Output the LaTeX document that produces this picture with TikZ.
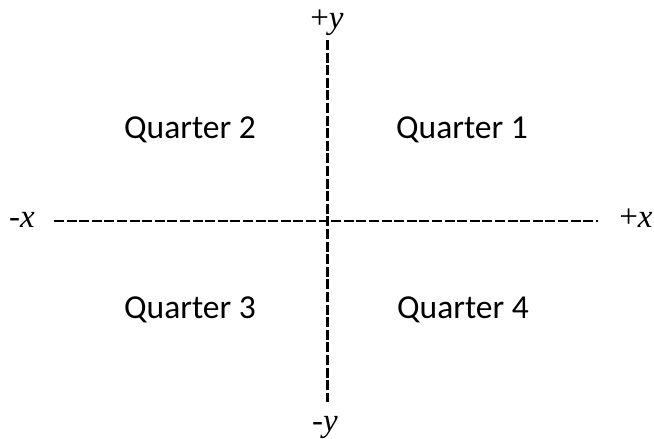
\documentclass[tikz,border=0pt]{standalone}
\usepackage{fontspec}
\setmainfont{Liberation Serif}
\newfontfamily\quarterfont{Carlito}

\begin{document}
\begin{tikzpicture}[x=1pt, y=-1pt,
    axis/.style={line width=2.5pt, dash pattern=on 10pt off 2.6pt},
    axlabel/.style={anchor=base, inner sep=0pt, font=\fontsize{33}{40}\selectfont},
    quarter/.style={anchor=base, inner sep=0pt, font=\quarterfont\fontsize{33.5}{40}\selectfont}
]
    \useasboundingbox (0,0) rectangle (654,439);

    % 1. Ends of the two dashed axes
    \coordinate (xneg) at (54,221);
    \coordinate (xpos) at (598,221);
    \coordinate (ypos) at (327.5,40);
    \coordinate (yneg) at (327.5,402);

    \draw[axis] (xneg) -- (xpos);
    \draw[axis] (ypos) -- (yneg);

    % 2. Axis labels
    \node[axlabel] (lxneg) at (22,227) {-\textit{x}};
    \node[axlabel] (lxpos) at (636,227) {+\textit{x}};
    \node[axlabel] (lypos) at (327,28) {+\textit{y}};
    \node[axlabel] (lyneg) at (325,431) {-\textit{y}};

    % 3. The four quarters
    \node[quarter] (q1) at (462,138) {Quarter 1};
    \node[quarter] (q2) at (190,138) {Quarter 2};
    \node[quarter] (q3) at (190,318) {Quarter 3};
    \node[quarter] (q4) at (463,318) {Quarter 4};

\end{tikzpicture}
\end{document}
